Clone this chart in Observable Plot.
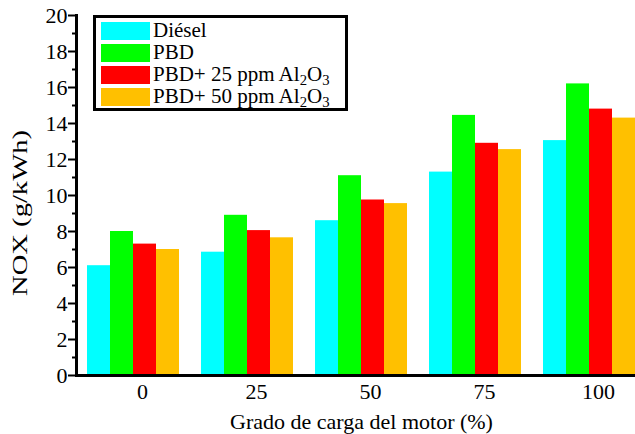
<!DOCTYPE html>
<html><head><meta charset="utf-8">
<script src="https://cdn.jsdelivr.net/npm/d3@7"></script>
<script src="https://cdn.jsdelivr.net/npm/@observablehq/plot@0.6"></script>
<style>
body{margin:0;background:#fff;}
#wrap{position:relative;width:635px;height:434px;overflow:hidden;font-family:"Liberation Serif","Times New Roman",serif;color:#000;}
#wrap svg{position:absolute;left:0;top:0;}
#ylab{position:absolute;left:20px;top:213px;transform:translate(-50%,-50%) rotate(-90deg) scaleX(1.3);font-family:"Liberation Serif",serif;font-size:22px;white-space:nowrap;line-height:1;}
#legend{position:absolute;left:93px;top:15px;width:249px;height:90px;border:3px solid #000;background:#fff;}
.row{position:absolute;left:5px;display:flex;align-items:center;height:19px;font-family:"Liberation Serif",serif;font-size:21px;white-space:nowrap;}
.sw{width:49px;height:18px;margin-right:3px;flex:none;}
sub{font-size:0.7em;vertical-align:-0.3em;line-height:0;}
</style>
</head><body>
<div id="wrap"></div>
<script>
const loads = [0, 25, 50, 75, 100];
const series = ["Diésel", "PBD", "PBD+ 25 ppm Al2O3", "PBD+ 50 ppm Al2O3"];
const diesel = [6.1, 6.85, 8.6, 11.3, 13.05];
const pbd = [8.0, 8.9, 11.1, 14.45, 16.2];
const pbd25 = [7.3, 8.05, 9.75, 12.9, 14.8];
const pbd50 = [7.0, 7.65, 9.55, 12.55, 14.3];
const colors = ["#00FFFF", "#00FF00", "#FF0000", "#FFC000"];
const yMajorTicks = [0, 2, 4, 6, 8, 10, 12, 14, 16, 18, 20];
const yMinorTicks = [1, 3, 5, 7, 9, 11, 13, 15, 17, 19];
const xTitle = "Grado de carga del motor (%)";
const yTitle = "NOX (g/kWh)";

const valuesBySeries = [diesel, pbd, pbd25, pbd50];
const data = series.flatMap((s, i) => loads.map((l, j) => ({series: s, load: l, value: valuesBySeries[i][j]})));
const serif = "'Liberation Serif', 'Times New Roman', serif";

const chart = Plot.plot({
  width: 635, height: 434,
  marginLeft: 75, marginRight: -11, marginTop: 15, marginBottom: 59,
  style: {fontFamily: serif, background: "transparent", overflow: "visible", color: "#000"},
  fx: {domain: loads, paddingInner: 0, paddingOuter: 0, label: null},
  x: {domain: series, paddingInner: 0, paddingOuter: 0.426, axis: null},
  y: {domain: [0, 20], label: null},
  color: {domain: series, range: colors},
  marks: [
    Plot.barY(data, {fx: "load", x: "series", y: "value", fill: "series"}),
    Plot.axisY({ticks: yMinorTicks, tickSize: 4, strokeWidth: 2, fill: "none", label: null}),
    Plot.axisY({ticks: yMajorTicks, tickSize: 8, tickPadding: 1, fontSize: 22, fontFamily: serif, strokeWidth: 2, label: null}),
    Plot.axisFx({anchor: "bottom", tickSize: 0, tickPadding: 8, fontSize: 22, fontFamily: serif, dx: 9, label: null}),
    Plot.frame({anchor: "left", facet: "super", strokeWidth: 3}),
    Plot.frame({anchor: "bottom", facet: "super", strokeWidth: 3}),
    Plot.text([xTitle], {frameAnchor: "bottom", facet: "super", dy: 46, lineAnchor: "middle", fontSize: 22, fontFamily: serif})
  ]
});

const wrap = document.getElementById("wrap");
wrap.appendChild(chart);

const ylab = document.createElement("div");
ylab.id = "ylab";
ylab.textContent = yTitle;
wrap.appendChild(ylab);

const legend = document.createElement("div");
legend.id = "legend";
series.forEach((s, i) => {
  const row = document.createElement("div");
  row.className = "row";
  row.style.top = (3 + i * 22) + "px";
  const sw = document.createElement("div");
  sw.className = "sw";
  sw.style.background = colors[i];
  const label = document.createElement("span");
  label.innerHTML = s.replace(/(Al|O)(\d)/g, "$1<sub>$2</sub>");
  row.appendChild(sw);
  row.appendChild(label);
  legend.appendChild(row);
});
wrap.appendChild(legend);
</script>
</body></html>
